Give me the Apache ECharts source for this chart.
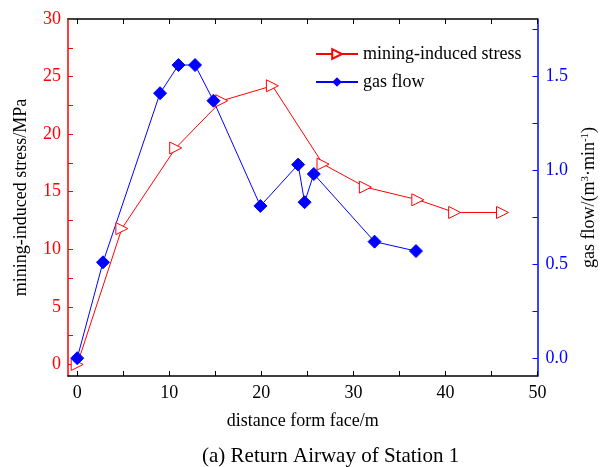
<!DOCTYPE html>
<html>
<head>
<meta charset="utf-8">
<script src="https://cdn.jsdelivr.net/npm/echarts@6/dist/echarts.min.js"></script>
<style>
  html, body { margin: 0; padding: 0; background: #ffffff; }
  #chart { width: 606px; height: 467px; }
</style>
</head>
<body>
<div id="chart"></div>
<script>
// distance from face (m) and values
const stressX = [0, 4.85, 10.7, 15.7, 21.2, 26.7, 31.3, 37.0, 41.0, 46.2]
const stressY = [0, 11.8, 18.8, 22.9, 24.2, 17.4, 15.4, 14.3, 13.2, 13.2]
const gasX = [0, 2.8, 9.0, 11.0, 12.8, 14.8, 19.9, 24.0, 24.7, 25.7, 32.3, 36.8]
const gasY = [0, 0.51, 1.41, 1.56, 1.56, 1.37, 0.81, 1.03, 0.83, 0.98, 0.62, 0.57]

const xTicks = [0, 5, 10, 15, 20, 25, 30, 35, 40, 45, 50]
const xLabels = [0, 10, 20, 30, 40, 50]
const stressTicks = [0, 2.5, 5, 7.5, 10, 12.5, 15, 17.5, 20, 22.5, 25, 27.5, 30]
const stressLabels = [0, 5, 10, 15, 20, 25, 30]
const gasTicks = [0, 0.25, 0.5, 0.75, 1, 1.25, 1.5, 1.75]
const gasLabels = [0, 0.5, 1, 1.5]

const FONT = 'Liberation Serif'
const RED = '#ff0000'
const BLUE = '#0000ff'

const chart = echarts.init(document.getElementById('chart'))

const option = {
  animation: false,
  textStyle: { fontFamily: FONT },
  title: {
    text: '(a) Return Airway of Station 1',
    left: 197,
    top: 441,
    textStyle: { fontFamily: FONT, fontSize: 21, fontWeight: 'normal', color: '#000' }
  },
  legend: {
    orient: 'vertical',
    left: 310,
    top: 40,
    itemWidth: 42,
    itemHeight: 12,
    itemGap: 10,
    textStyle: { fontFamily: FONT, fontSize: 18, color: '#000' },
    data: ['mining-induced stress', 'gas flow']
  },
  grid: { left: 68, right: 59, top: 19, bottom: 91 },
  xAxis: [
    {
      type: 'value',
      min: -1,
      max: 50,
      name: 'distance form face/m',
      nameLocation: 'middle',
      nameGap: 36,
      nameTextStyle: { fontFamily: FONT, fontSize: 18, color: '#000' },
      axisLine: { show: true, onZero: false, lineStyle: { color: '#000', width: 1.5 } },
      axisTick: { inside: true, length: 5, customValues: xTicks, lineStyle: { color: '#000' } },
      axisLabel: { customValues: xLabels, margin: 8, fontFamily: FONT, fontSize: 18, color: '#000' },
      splitLine: { show: false }
    },
    {
      type: 'value',
      position: 'top',
      min: -1,
      max: 50,
      axisLine: { show: true, onZero: false, lineStyle: { color: '#000', width: 1.5 } },
      axisTick: { inside: true, length: 5, customValues: xTicks, lineStyle: { color: '#000' } },
      axisLabel: { show: false },
      splitLine: { show: false }
    }
  ],
  yAxis: [
    {
      type: 'value',
      position: 'left',
      min: -1,
      max: 30,
      name: 'mining-induced stress/MPa',
      nameLocation: 'middle',
      nameGap: 38,
      nameRotate: 90,
      nameTextStyle: { fontFamily: FONT, fontSize: 18, color: '#000' },
      axisLine: { show: true, onZero: false, lineStyle: { color: RED, width: 1.5 } },
      axisTick: { inside: true, length: 5, customValues: stressTicks, lineStyle: { color: RED } },
      axisLabel: { customValues: stressLabels, margin: 7, fontFamily: FONT, fontSize: 18, color: RED },
      splitLine: { show: false }
    },
    {
      type: 'value',
      position: 'right',
      min: -0.095,
      max: 1.805,
      name: '{t|gas flow/(m}{s|3}{t|·min}{s|-1}{t|)}',
      nameLocation: 'middle',
      nameGap: 42,
      nameRotate: 90,
      nameTextStyle: {
        fontFamily: FONT,
        color: '#000',
        rich: {
          t: { fontFamily: FONT, fontSize: 18, color: '#000' },
          s: { fontFamily: FONT, fontSize: 11, color: '#000', verticalAlign: 'top', padding: [0, 0, 8, 0] }
        }
      },
      axisLine: { show: true, onZero: false, lineStyle: { color: BLUE, width: 1.5 } },
      axisTick: { inside: true, length: 5, customValues: gasTicks, lineStyle: { color: BLUE } },
      axisLabel: {
        customValues: gasLabels,
        margin: 8,
        fontFamily: FONT,
        fontSize: 18,
        color: BLUE,
        formatter: v => v.toFixed(1)
      },
      splitLine: { show: false }
    }
  ],
  series: [
    {
      name: 'mining-induced stress',
      type: 'line',
      xAxisIndex: 0,
      yAxisIndex: 0,
      data: stressX.map((x, i) => [x, stressY[i]]),
      symbol: 'triangle',
      symbolRotate: -90,
      symbolSize: 12,
      lineStyle: { color: RED, width: 1 },
      itemStyle: { color: '#ffffff', borderColor: RED, borderWidth: 1 }
    },
    {
      name: 'gas flow',
      type: 'line',
      xAxisIndex: 0,
      yAxisIndex: 1,
      data: gasX.map((x, i) => [x, gasY[i]]),
      symbol: 'diamond',
      symbolSize: 13,
      lineStyle: { color: BLUE, width: 1 },
      itemStyle: { color: BLUE, borderColor: BLUE }
    }
  ]
}

chart.setOption(option)
window.addEventListener('resize', () => chart.resize())
</script>
</body>
</html>
